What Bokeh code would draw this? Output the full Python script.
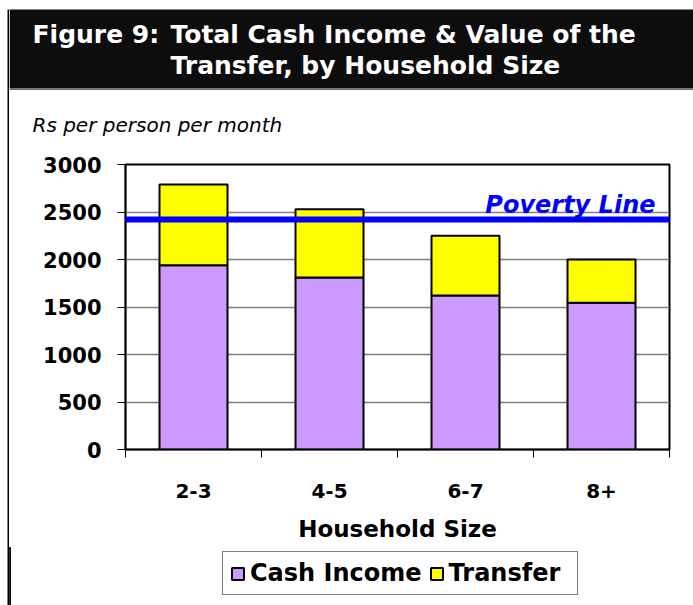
from bokeh.plotting import figure
from bokeh.layouts import row, column
from bokeh.models import (ColumnDataSource, Range1d, FixedTicker, Span, Label,
                          BoxAnnotation, Legend, LegendItem)
from bokeh.embed import file_html
from bokeh.resources import INLINE

# ---- data ----
categories = ["2-3", "4-5", "6-7", "8+"]
cash_income = [1940, 1810, 1620, 1545]
transfer = [850, 720, 630, 455]
poverty_line = 2420
y_ticks = [0, 500, 1000, 1500, 2000, 2500, 3000]
series_names = ["Cash Income", "Transfer"]
series_colors = ["#CC99FF", "#FFFF00"]
title_prefix = "Figure 9:"
title_line1 = "Total Cash Income & Value of the"
title_line2 = "Transfer, by Household Size"
y_caption = "Rs per person per month"
x_title = "Household Size"
poverty_text = "Poverty Line"

FONT = "DejaVu Sans"
PW, PH = 693, 605          # page size
SX = 9                     # width of the left strip
HEAD_H = 150               # header height
MAIN_H = 397               # main chart height
LEG_H = PH - HEAD_H - MAIN_H
CW = PW - SX


def blank_fig(w, h, x0, x1, y0, y1):
    f = figure(width=w, height=h, output_backend="svg", toolbar_location=None,
               x_range=Range1d(x0, x1), y_range=Range1d(y0, y1),
               x_axis_type=None, y_axis_type=None, min_border=0,
               frame_align=False)
    f.grid.grid_line_color = None
    f.outline_line_color = None
    f.background_fill_color = "white"
    f.border_fill_color = "white"
    return f


# ---- left frame strip ----
strip = blank_fig(SX, PH, 0, SX, PH, 0)
strip.add_layout(BoxAnnotation(left=7, right=9, top=9, bottom=PH,
                               fill_color="black", fill_alpha=1,
                               line_color=None))

# ---- header (data coords == page px) ----
head = blank_fig(CW, HEAD_H, SX, PW, HEAD_H, 0)
head.add_layout(BoxAnnotation(left=SX, right=PW, top=9, bottom=88,
                              fill_color="#0D0D0D", fill_alpha=1,
                              line_color=None))
head.add_layout(BoxAnnotation(left=SX, right=PW, top=88, bottom=89.5,
                              fill_color="#6E6E6E", fill_alpha=1,
                              line_color=None))


def hlabel(text, x, y, size, style, color):
    return Label(x=x, y=y, text=text, text_align="left",
                 text_baseline="alphabetic", text_font=FONT,
                 text_font_style=style, text_font_size=size,
                 text_color=color)


head.add_layout(hlabel(title_prefix, 32, 34, "25px", "bold", "white"))
head.add_layout(hlabel(title_line1, 170, 34, "25px", "bold", "white"))
head.add_layout(hlabel(title_line2, 170, 65, "25px", "bold", "white"))
head.add_layout(hlabel(y_caption, 32, 124, "20px", "italic", "black"))

# ---- main chart ----
xs = [i + 0.5 for i in range(len(categories))]
src = ColumnDataSource(dict(x=xs, cash=cash_income, transfer=transfer))

p = figure(width=CW, height=MAIN_H, output_backend="svg",
           toolbar_location=None, frame_align=False,
           x_range=Range1d(0, len(categories)), y_range=Range1d(0, 3000),
           min_border_left=125 - SX, min_border_right=PW - 669,
           min_border_top=164 - HEAD_H,
           min_border_bottom=HEAD_H + MAIN_H - 449)
p.background_fill_color = "white"
p.border_fill_color = "white"
p.outline_line_color = "black"
p.outline_line_width = 2

bar_style = dict(x="x", width=0.5, source=src, fill_color=series_colors,
                 line_color="black", line_width=2)
renderers = p.vbar_stack(["cash", "transfer"], **bar_style)

p.xgrid.grid_line_color = None
p.ygrid.ticker = FixedTicker(ticks=y_ticks)
p.ygrid.grid_line_color = "#808080"
p.ygrid.grid_line_width = 1.5

ya = p.yaxis[0]
ya.ticker = FixedTicker(ticks=y_ticks)
ya.axis_line_color = "black"
ya.axis_line_width = 1.5
ya.major_tick_out = 8
ya.major_tick_in = 0
ya.major_tick_line_color = "black"
ya.minor_tick_line_color = None
ya.major_label_text_font = FONT
ya.major_label_text_font_style = "bold"
ya.major_label_text_font_size = "21px"
ya.major_label_text_color = "black"
ya.major_label_standoff = 16

xa = p.xaxis[0]
xa.ticker = FixedTicker(ticks=xs, minor_ticks=list(range(len(categories) + 1)))
xa.major_label_overrides = {x: c for x, c in zip(xs, categories)}
xa.axis_line_color = "black"
xa.axis_line_width = 1.5
xa.major_tick_line_color = None
xa.major_tick_out = 8
xa.minor_tick_line_color = "black"
xa.minor_tick_out = 8
xa.minor_tick_in = 0
xa.major_label_text_font = FONT
xa.major_label_text_font_style = "bold"
xa.major_label_text_font_size = "20px"
xa.major_label_text_color = "black"
xa.major_label_standoff = 26
xa.axis_label = x_title
xa.axis_label_text_font = FONT
xa.axis_label_text_font_style = "bold"
xa.axis_label_text_font_size = "23px"
xa.axis_label_text_color = "black"
xa.axis_label_standoff = 15

p.add_layout(Span(location=poverty_line, dimension="width",
                  line_color="#0000FF", line_width=6))
p.add_layout(Label(x=len(categories), y=poverty_line, x_offset=-14, y_offset=15,
                   text=poverty_text, text_align="right",
                   text_baseline="alphabetic", text_font=FONT,
                   text_font_style="bold italic", text_font_size="24px",
                   text_color="#0000FF"))

# ---- legend panel (same bar renderers, kept outside the visible range) ----
lf = blank_fig(CW, LEG_H, 100, 101, 100, 101)
leg_renderers = lf.vbar_stack(["cash", "transfer"], **bar_style)
legend = Legend(items=[LegendItem(label=n, renderers=[r])
                       for n, r in zip(series_names, leg_renderers)],
                orientation="horizontal", location=(222 - SX, PH - 595),
                label_text_font=FONT, label_text_font_style="bold",
                label_text_font_size="24px", label_text_color="black",
                glyph_width=15, glyph_height=15, label_standoff=5,
                label_width=121, spacing=7, padding=7, margin=0,
                border_line_color="black", border_line_width=1.5,
                background_fill_color="white", background_fill_alpha=1)
lf.add_layout(legend)

layout = row(strip, column(head, p, lf, spacing=0), spacing=0)

open("out.html", "w").write(file_html(layout, INLINE))
